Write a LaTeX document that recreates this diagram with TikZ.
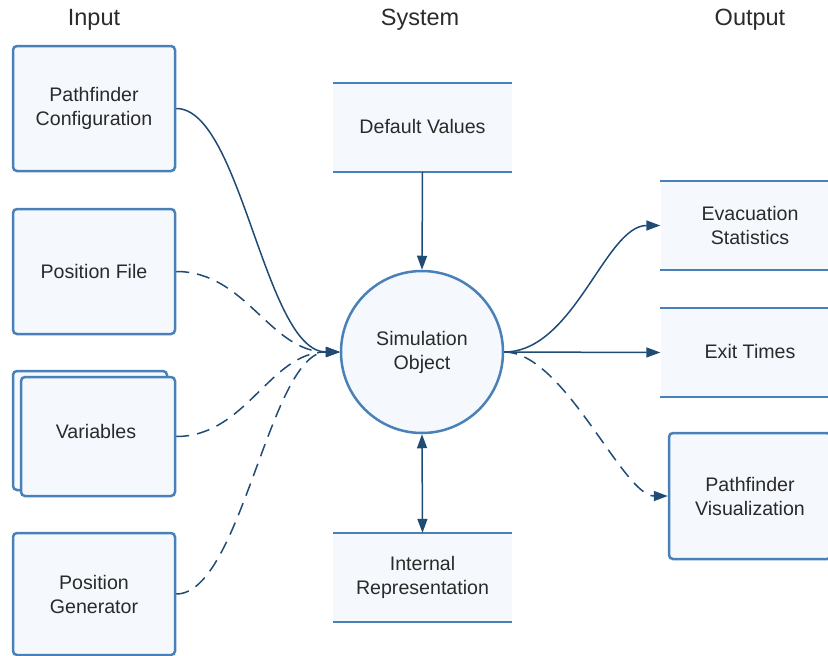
\documentclass[tikz,border=0pt]{standalone}
\usepackage{fontspec}
\setmainfont{Liberation Sans}
\usetikzlibrary{arrows.meta}
\definecolor{bd}{HTML}{4A80B8}
\definecolor{fl}{HTML}{F5F9FE}
\definecolor{ln}{HTML}{1F4B75}
\definecolor{tx}{HTML}{2A2A2A}
\begin{document}
\begin{tikzpicture}[x=1pt,y=-1pt,
  lbl/.style={font=\fontsize{19.6}{24}\selectfont,text=tx,align=center},
  box/.style={draw=bd,fill=fl,line width=2.5pt,rounded corners=4pt,minimum width=162pt,minimum height=125pt,inner sep=0pt,lbl},
  store/.style={fill=fl,minimum width=179pt,minimum height=89pt,inner sep=0pt,lbl},
  storeline/.style={draw=bd,line width=2.5pt},
  conn/.style={draw=ln,line width=1.5pt,-{Triangle[length=14pt,width=10pt]}},
  dashconn/.style={conn,dash pattern=on 13pt off 8pt},
  title/.style={font=\fontsize{23.5}{28}\selectfont,text=tx,inner sep=0pt}]
\useasboundingbox (0,0) rectangle (828,656);
\clip (0,0) rectangle (828,656);

% titles
\node[title] (tin) at (94,19.5) {Input};
\node[title] (tsys) at (420,19.5) {System};
\node[title] (tout) at (750,19.5) {Output};

% input boxes
\node[box] (pc) at (94,108.5) {Pathfinder\\Configuration};
\node[box] (pf) at (94,271.5) {Position File};
\node[box,minimum width=154pt,minimum height=119pt] (varsback) at (90,430.5) {};
\node[box,minimum width=154pt,minimum height=119pt,label={[lbl,xshift=-2pt,yshift=5pt]center:Variables}] (vars) at (98,436.5) {};
\node[box,minimum height=122pt] (pg) at (94,594) {Position\\Generator};

% system
\node[store] (dv) at (422.5,127.5) {\raisebox{2pt}{Default Values}};
\draw[storeline] (dv.north west) -- (dv.north east);
\draw[storeline] (dv.south west) -- (dv.south east);
\node[store] (ir) at (422.5,577.5) {Internal\\Representation};
\draw[storeline] (ir.north west) -- (ir.north east);
\draw[storeline] (ir.south west) -- (ir.south east);
\node[circle,draw=bd,fill=fl,line width=2.5pt,minimum size=162pt,inner sep=0pt,lbl] (sim) at (422,352) {Simulation\\Object};

% output
\node[store] (es) at (750,225.5) {Evacuation\\Statistics};
\draw[storeline] (es.north west) -- (es.north east);
\draw[storeline] (es.south west) -- (es.south east);
\node[store] (et) at (750,352.5) {\raisebox{2pt}{Exit Times}};
\draw[storeline] (et.north west) -- (et.north east);
\draw[storeline] (et.south west) -- (et.south east);
\node[box,minimum height=126pt] (pv) at (750,496) {Pathfinder\\Visualization};

% connectors
\draw[conn] (pc.east) .. controls +(65,0) and +(-75,0) .. (sim.west);
\draw[dashconn] (pf.east) .. controls +(70,0) and +(-70,0) .. (sim.west);
\draw[dashconn] (vars.east) .. controls +(70,0) and +(-70,0) .. (sim.west);
\draw[dashconn] (pg.east) .. controls +(65,0) and +(-70,0) .. (sim.west);
\draw[conn] (dv.south) -- (sim.north);
\draw[conn,{Triangle[length=14pt,width=10pt]}-{Triangle[length=14pt,width=10pt]}] (sim.south) -- (ir.north);
\draw[conn] (sim.east) .. controls +(70,0) and +(-55,0) .. (es.west);
\draw[conn] (sim.east) -- (et.west);
\draw[dashconn] (sim.east) .. controls +(60,0) and +(-45,0) .. (pv.west);
\end{tikzpicture}
\end{document}
